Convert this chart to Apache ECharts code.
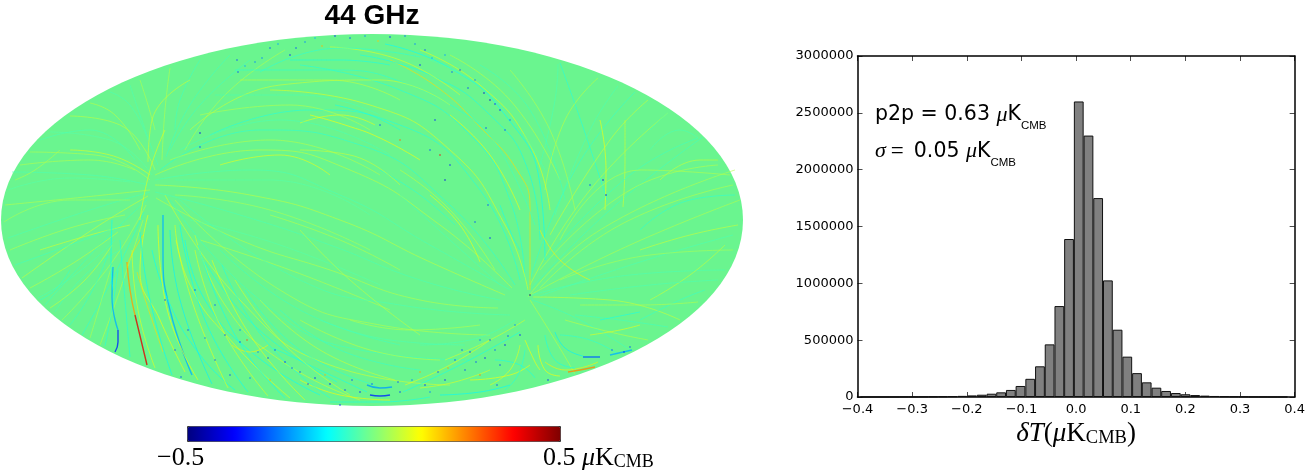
<!DOCTYPE html>
<html>
<head>
<meta charset="utf-8">
<title>44 GHz</title>
<script src="https://cdn.jsdelivr.net/npm/echarts@6/dist/echarts.min.js"></script>
<style>
html, body { margin: 0; padding: 0; background: #fff; }
#main { width: 1308px; height: 471px; }
</style>
</head>
<body>
<div id="main"></div>
<script>
// histogram
var binCenters = [-0.3858, -0.3681, -0.3503, -0.3325, -0.3148, -0.2970, -0.2793, -0.2615, -0.2437, -0.2260, -0.2082,
    -0.1905, -0.1727, -0.1549, -0.1372, -0.1194, -0.1017, -0.0839, -0.0661, -0.0484, -0.0306, -0.0129,
    0.0049, 0.0227, 0.0404, 0.0582, 0.0759, 0.0937, 0.1115, 0.1292, 0.1470, 0.1647, 0.1825, 0.2003,
    0.2180, 0.2358, 0.2535, 0.2713, 0.2891, 0.3068, 0.3246, 0.3423, 0.3601, 0.3779];
var binCounts = [200, 300, 500, 800, 1200, 1800, 2500, 3500, 5000, 7000, 10000,
    14000, 20000, 29000, 41000, 62000, 97000, 160000, 270000, 463000, 800000, 1390000,
    2600000, 2300000, 1750000, 1026000, 592000, 355000, 210000, 129000, 82000, 53000, 35000, 24000,
    17000, 12000, 9000, 6000, 4000, 2800, 1900, 1200, 700, 400];
var histXTicks = [-0.4, -0.3, -0.2, -0.1, 0, 0.1, 0.2, 0.3, 0.4];

// map streaks as [value, points]
var streaksLeftFan = [
    [0.05, [[150,190],[85,197],[5,205]]],
    [-0.05, [[150,192],[90,210],[8,238]]],
    [0.07, [[148,196],[95,228],[22,278]]],
    [-0.06, [[147,200],[100,245],[45,305]]],
    [0.05, [[146,205],[110,265],[62,320]]],
    [-0.08, [[144,212],[112,280],[82,335]]],
    [0.06, [[143,220],[120,290],[100,345]]],
    [-0.05, [[148,185],[90,175],[12,172]]],
    [0.05, [[150,180],[95,155],[30,152]]],
    [-0.04, [[152,175],[110,140],[50,132]]],
    [0.06, [[155,170],[120,125],[70,116]]],
    [-0.05, [[158,165],[140,115],[130,85]]],
    [0.05, [[162,160],[165,110],[170,68]]],
    [-0.06, [[166,157],[190,105],[230,55]]],
    [0.08, [[130,225],[90,235],[40,250]]],
    [-0.05, [[120,250],[85,275],[55,312]]],
    [-0.07, [[70,270],[55,290],[40,300]]],
    [0.05, [[60,150],[35,170],[15,180]]],
    [0.05, [[125,215],[70,228],[10,250]]],
    [-0.06, [[122,225],[70,245],[15,265]]],
    [0.06, [[118,232],[75,262],[30,288]]],
    [-0.05, [[115,240],[75,275],[38,298]]],
    [0.07, [[112,245],[85,280],[50,308]]],
    [-0.07, [[108,255],[90,295],[70,325]]],
    [0.05, [[112,265],[100,305],[90,338]]],
    [-0.09, [[118,270],[112,310],[105,346]]],
    [0.04, [[130,200],[70,200],[4,222]]],
    [-0.04, [[130,182],[70,178],[8,190]]],
    [0.05, [[135,170],[90,160],[20,165]]],
    [-0.05, [[135,160],[90,130],[40,140]]],
    [0.06, [[140,150],[115,115],[90,103]]],
    [-0.05, [[148,140],[130,105],[110,92]]],
    [0.05, [[155,130],[148,105],[140,80]]],
    [-0.06, [[175,130],[180,100],[200,60]]],
    [0.08, [[148,162],[152,120],[190,80]]],
    [0.1, [[140,220],[150,170],[165,130]]],
    [-0.06, [[170,150],[200,105],[250,60]]],
    [0.05, [[185,150],[225,95],[285,50]]]
];
var streaksRightFan = [
    [0.05, [[530,295],[630,245],[740,200]]],
    [-0.05, [[532,295],[630,275],[725,270]]],
    [0.07, [[533,297],[610,300],[680,320]]],
    [-0.06, [[532,300],[580,320],[630,350]]],
    [0.06, [[530,300],[555,340],[575,374]]],
    [0.05, [[528,297],[600,230],[735,170]]],
    [-0.06, [[530,290],[610,210],[703,137]]],
    [0.06, [[530,285],[590,190],[668,113]]],
    [-0.07, [[530,280],[575,170],[635,92]]],
    [-0.09, [[607,200],[583,127],[560,63]]],
    [0.08, [[623,207],[625,160],[625,120]]],
    [0.12, [[605,210],[606,170],[600,120]]],
    [0.05, [[540,288],[620,225],[733,185]]],
    [-0.05, [[540,296],[640,262],[733,235]]],
    [0.07, [[650,300],[690,275],[725,245]]],
    [-0.07, [[640,320],[680,300],[705,290]]],
    [0.07, [[660,180],[700,160],[718,160]]],
    [-0.05, [[650,130],[660,120],[668,113]]],
    [0.04, [[560,280],[650,255],[733,250]]],
    [-0.05, [[570,295],[650,285],[718,280]]],
    [0.05, [[580,305],[640,305],[698,302]]],
    [-0.06, [[575,315],[620,320],[668,327]]],
    [0.06, [[565,320],[610,332],[648,340]]],
    [-0.08, [[560,335],[590,340],[618,354]]],
    [0.05, [[540,270],[630,190],[718,165]]],
    [-0.06, [[545,260],[630,175],[698,138]]],
    [0.07, [[550,235],[610,140],[648,100]]],
    [-0.05, [[555,215],[590,130],[618,86]]],
    [0.06, [[545,190],[565,120],[598,78]]],
    [-0.05, [[540,165],[555,100],[558,64]]],
    [0.05, [[560,240],[640,170],[730,175]]],
    [-0.08, [[640,230],[690,200],[735,195]]],
    [0.07, [[640,250],[690,235],[738,225]]],
    [-0.05, [[650,150],[680,130],[698,138]]]
];
var streaksUpperArcs = [
    [0.16, [[390,60],[437,87],[480,127],[517,170],[530,207],[530,290]]],
    [-0.1, [[360,55],[430,75],[490,115],[528,170],[540,240]]],
    [-0.12, [[385,44],[450,68],[505,115],[540,185],[545,260]]],
    [0.1, [[420,50],[480,85],[530,145],[550,210]]],
    [-0.09, [[300,65],[400,90],[470,135],[510,200],[525,280]]],
    [0.09, [[270,90],[370,105],[450,150],[505,225],[528,290]]],
    [-0.08, [[235,70],[330,70],[410,85],[480,125]]],
    [0.07, [[190,130],[280,85],[380,80],[450,105]]],
    [-0.09, [[210,135],[310,110],[400,125],[480,190],[520,280]]],
    [0.12, [[310,115],[345,125],[380,138],[420,160]]],
    [-0.1, [[290,60],[340,60],[390,65]]],
    [0.1, [[300,123],[340,115],[375,125]]],
    [-0.08, [[160,170],[260,130],[360,145],[450,205],[515,285]]],
    [0.06, [[155,175],[260,150],[350,170],[440,225],[512,288]]],
    [-0.05, [[155,180],[250,170],[340,195],[430,245],[510,290]]],
    [0.06, [[155,185],[250,195],[340,220],[430,262],[505,295]]],
    [-0.05, [[155,192],[240,215],[330,245],[420,280],[500,300]]],
    [0.05, [[156,198],[240,240],[330,270],[420,300],[498,308]]],
    [0.1, [[220,165],[280,155],[330,175]]],
    [-0.08, [[380,170],[420,195],[455,225]]],
    [0.11, [[430,195],[460,225],[480,262]]],
    [-0.1, [[500,205],[512,235],[520,250]]],
    [0.09, [[70,150],[110,155],[150,175]]],
    [-0.1, [[335,105],[370,115],[400,130]]],
    [0.14, [[540,230],[560,260],[590,280]]],
    [0.09, [[330,47],[400,60],[460,95]]],
    [-0.08, [[260,72],[340,48],[420,57]]],
    [0.06, [[240,80],[330,80],[400,100]]],
    [-0.05, [[215,95],[300,95],[380,115]]],
    [0.05, [[200,115],[290,105],[370,130]]],
    [-0.05, [[180,150],[280,120],[390,155]]],
    [0.05, [[170,160],[270,140],[380,175]]],
    [-0.04, [[175,180],[270,180],[370,215]]],
    [0.04, [[175,195],[270,210],[370,250]]],
    [-0.04, [[190,220],[280,245],[380,285]]],
    [0.05, [[200,240],[290,270],[390,310]]],
    [0.11, [[450,115],[490,155],[520,210]]],
    [-0.06, [[465,110],[500,150],[535,225]]],
    [0.06, [[400,170],[450,210],[495,270]]],
    [-0.05, [[400,195],[450,240],[500,285]]],
    [0.07, [[300,150],[350,155],[400,185]]],
    [0.05, [[270,215],[340,240],[400,270]]],
    [-0.05, [[430,60],[490,95],[545,170]]],
    [0.06, [[450,55],[510,100],[560,180]]],
    [-0.06, [[480,65],[530,110],[565,200]]],
    [0.05, [[510,70],[550,130],[575,210]]]
];
var streaksLowerArcs = [
    [-0.2, [[113,267],[112,297],[118,330]]],
    [-0.34, [[118,330],[118,342],[115,352]]],
    [-0.12, [[112,220],[111,262],[113,290]]],
    [0.22, [[127,262],[130,290],[135,315]]],
    [0.4, [[135,315],[141,340],[147,365]]],
    [0.16, [[143,235],[130,258],[127,268]]],
    [0.16, [[137,272],[147,305],[163,352]]],
    [0.12, [[148,215],[140,270],[160,320],[185,372]]],
    [-0.2, [[163,215],[163,255],[170,310],[192,375]]],
    [-0.12, [[152,250],[168,300],[200,355],[235,390]]],
    [0.1, [[175,225],[190,285],[235,345],[290,398]]],
    [-0.12, [[185,240],[205,300],[255,355],[320,395]]],
    [0.08, [[195,235],[225,305],[280,360],[360,400]]],
    [-0.1, [[205,262],[257,328],[337,382]]],
    [0.08, [[165,195],[240,300],[330,365],[450,385]]],
    [-0.06, [[170,200],[260,300],[360,350],[470,360]]],
    [0.05, [[175,200],[280,290],[380,325],[490,335]]],
    [-0.05, [[180,200],[300,280],[400,305],[510,315]]],
    [0.14, [[232,345],[250,352],[268,345]]],
    [-0.1, [[273,348],[320,370],[367,392]]],
    [0.13, [[300,380],[340,395],[390,400]]],
    [-0.34, [[370,395],[380,396],[390,395]]],
    [-0.22, [[367,385],[380,388],[392,387]]],
    [0.1, [[405,385],[450,365],[490,340]]],
    [-0.1, [[403,392],[460,365],[520,332]]],
    [0.08, [[445,360],[490,340],[525,320]]],
    [0.12, [[525,340],[535,362],[540,370]]],
    [-0.1, [[495,360],[520,365],[535,378]]],
    [-0.13, [[440,395],[480,392],[510,385]]],
    [0.12, [[470,380],[510,375],[530,365]]],
    [-0.14, [[555,332],[565,348],[583,356]]],
    [-0.28, [[583,357],[600,357]]],
    [-0.2, [[610,355],[632,350]]],
    [0.24, [[568,372],[580,370],[595,367]]],
    [0.14, [[545,362],[565,370],[598,362]]],
    [-0.1, [[600,320],[625,315],[640,312]]],
    [0.1, [[590,335],[620,330],[640,325]]],
    [-0.06, [[220,250],[300,310],[400,345]]],
    [0.06, [[300,230],[350,280],[420,335]]],
    [-0.1, [[120,240],[125,300],[130,357]]],
    [0.1, [[132,250],[138,310],[155,368]]],
    [-0.13, [[140,232],[150,300],[172,375]]],
    [0.12, [[158,225],[165,300],[198,380]]],
    [-0.14, [[170,230],[180,300],[212,384]]],
    [0.1, [[176,240],[195,310],[228,388]]],
    [-0.12, [[180,225],[205,320],[248,392]]],
    [0.09, [[195,250],[220,325],[268,396]]],
    [-0.11, [[198,245],[235,335],[285,398]]],
    [0.1, [[212,260],[250,335],[305,400]]],
    [-0.09, [[222,265],[265,340],[330,398]]],
    [0.08, [[235,280],[285,345],[350,395]]],
    [-0.08, [[245,290],[300,350],[375,385]]],
    [0.07, [[260,300],[320,350],[395,380]]],
    [-0.07, [[280,310],[340,350],[420,370]]],
    [0.06, [[300,320],[370,350],[440,360]]],
    [-0.05, [[320,320],[390,340],[465,345]]],
    [0.05, [[350,320],[410,330],[480,325]]],
    [-0.05, [[420,345],[470,340],[515,320]]],
    [0.1, [[520,345],[510,370],[490,385]]],
    [-0.09, [[525,350],[518,375],[505,390]]],
    [0.12, [[538,345],[545,370],[560,376]]],
    [-0.1, [[545,335],[555,360],[575,368]]],
    [0.09, [[420,388],[455,382],[490,370]]],
    [-0.1, [[330,402],[380,402],[430,397]]]
];
// small dark specks along the noisy scan edges, as [x, y, value]
var specks = [
    [270,48,-0.3],[290,55,-0.35],[255,62,-0.25],[238,72,-0.3],[245,66,-0.2],[305,42,-0.25],[335,36,-0.35],[350,38,-0.3],
    [390,37,-0.35],[405,36,-0.28],[425,50,-0.3],[445,55,-0.22],[460,70,-0.3],[475,80,-0.25],[500,110,-0.35],[505,130,-0.3],
    [420,65,-0.35],[435,120,-0.35],[440,155,0.38],[430,150,-0.3],[450,165,-0.35],[445,180,-0.4],[400,140,0.28],[380,125,-0.3],
    [200,133,-0.4],[200,147,-0.3],[237,60,-0.3],[530,295,-0.5],
    [603,180,-0.4],[606,195,-0.38],[590,185,-0.3],[488,205,-0.3],[490,238,-0.35],[475,222,-0.3],
    [275,350,-0.3],[285,362,-0.35],[300,372,-0.3],[315,378,-0.35],[330,384,-0.38],[345,390,-0.32],[360,392,-0.35],[340,405,-0.35],
    [247,340,0.3],[240,342,-0.3],[181,377,-0.3],[165,300,-0.3],[195,290,-0.3],[215,305,-0.28],[225,335,-0.3],[240,330,-0.25],
    [400,392,-0.32],[425,385,-0.35],[445,380,-0.35],[465,370,-0.3],[485,358,-0.35],[505,345,-0.38],[520,335,-0.35],[455,360,-0.3],
    [470,352,-0.33],[490,340,-0.3],[515,325,-0.25],[480,375,0.25],[500,365,-0.3],[430,392,-0.25],[548,380,-0.35],[612,350,-0.3],
    [624,352,-0.35],[630,347,-0.3],[497,385,-0.3],[420,372,0.22],
    [262,58,-0.25],[278,44,-0.22],[296,48,-0.3],[315,38,-0.2],[322,46,0.2],[365,36,-0.25],[378,41,0.18],[415,44,-0.25],
    [432,58,-0.2],[452,72,-0.28],[468,88,-0.3],[484,93,-0.42],[490,100,-0.42],[495,104,-0.35],[510,120,-0.25],[486,128,-0.3],
    [258,352,-0.25],[268,358,-0.3],[292,368,-0.28],[308,384,-0.3],[325,375,0.2],[352,380,-0.3],[372,384,-0.3],[398,382,-0.3],
    [412,380,-0.25],[438,372,-0.3],[448,368,0.22],[476,362,-0.3],[495,350,-0.28],[508,336,-0.3],[462,350,-0.28],[480,340,-0.25],
    [205,338,-0.25],[188,330,-0.3],[175,350,-0.3],[215,360,-0.28],[230,375,-0.3],[250,378,-0.25],[270,380,0.2]
];

var jetColors = ['#00007f', '#0000ff', '#007fff', '#00ffff', '#7fff7f', '#ffff00', '#ff7f00', '#ff0000', '#7f0000'];
var allStreaks = streaksLeftFan.concat(streaksRightFan, streaksUpperArcs, streaksLowerArcs);

var myChart = echarts.init(document.getElementById('main'));

var streakSeries = allStreaks.map(function (s) {
    var strong = Math.abs(s[0]) >= 0.2;
    return {
        type: 'line',
        xAxisIndex: 0,
        yAxisIndex: 0,
        data: s[1],
        smooth: true,
        showSymbol: false,
        silent: true,
        z: 3,
        lineStyle: {
            color: echarts.color.lerp(s[0] + 0.5, jetColors),
            width: strong ? 1.4 : 1,
            opacity: strong ? 0.8 : 0.62
        }
    };
});

var serif = 'Liberation Serif';
var noteRich = {
    a: { fontFamily: 'DejaVu Sans', fontSize: 20.5, color: '#000', lineHeight: 34, verticalAlign: 'middle' },
    m: { fontFamily: serif, fontStyle: 'italic', fontSize: 22, color: '#000', lineHeight: 34, verticalAlign: 'middle' },
    e: { fontFamily: serif, fontSize: 23, color: '#000', lineHeight: 34, verticalAlign: 'middle', padding: [0, 10, 0, 5] },
    s: { fontFamily: 'Liberation Sans', fontSize: 11.5, color: '#000', lineHeight: 12, verticalAlign: 'bottom' }
};
var tickLine = { color: '#000', width: 0.7 };
var frameLine = { color: '#000', width: 1.5 };

var option = {
    animation: false,
    backgroundColor: '#fff',
    title: {
        text: '44 GHz',
        left: 367,
        top: -3,
        textAlign: 'center',
        textStyle: { fontFamily: 'Liberation Sans', fontWeight: 'bold', fontSize: 28, color: '#000' }
    },
    grid: [
        { left: 1, top: 34, width: 742, height: 372, show: false },
        { left: 857.5, top: 56, width: 440, height: 341, show: false }
    ],
    xAxis: [
        { gridIndex: 0, type: 'value', min: 1, max: 743, show: false },
        {
            gridIndex: 1, type: 'value', min: -0.4, max: 0.4, interval: 0.1, position: 'bottom',
            axisLine: { onZero: false, lineStyle: frameLine },
            axisTick: { inside: true, length: 5, lineStyle: tickLine },
            axisLabel: {
                margin: 6, fontSize: 13, fontFamily: 'DejaVu Sans', color: '#000',
                customValues: histXTicks,
                formatter: function (v) { return v.toFixed(1).replace('-', '\u2212'); }
            },
            splitLine: { show: false },
            name: '{i|\u03b4T}{r|(}{i|\u03bc}{r|K}{s|CMB}{r|)}',
            nameLocation: 'middle',
            nameGap: 21,
            nameTextStyle: {
                rich: {
                    i: { fontFamily: serif, fontStyle: 'italic', fontSize: 27, color: '#000' },
                    r: { fontFamily: serif, fontSize: 27, color: '#000' },
                    s: { fontFamily: serif, fontSize: 18.5, color: '#000', verticalAlign: 'bottom' }
                }
            }
        },
        {
            gridIndex: 1, type: 'value', min: -0.4, max: 0.4, interval: 0.1, position: 'top',
            axisLine: { onZero: false, lineStyle: frameLine },
            axisTick: { inside: true, length: 5, lineStyle: tickLine },
            axisLabel: { show: false }, splitLine: { show: false }
        }
    ],
    yAxis: [
        { gridIndex: 0, type: 'value', min: 34, max: 406, inverse: true, show: false },
        {
            gridIndex: 1, type: 'value', min: 0, max: 3000000, interval: 500000, position: 'left',
            axisLine: { show: true, onZero: false, lineStyle: frameLine },
            axisTick: { show: true, inside: true, length: 5, lineStyle: tickLine },
            axisLabel: {
                margin: 4, fontSize: 13, fontFamily: 'DejaVu Sans', color: '#000',
                formatter: function (v) { return String(v); }
            },
            splitLine: { show: false }
        },
        {
            gridIndex: 1, type: 'value', min: 0, max: 3000000, interval: 500000, position: 'right',
            axisLine: { show: true, onZero: false, lineStyle: frameLine },
            axisTick: { show: true, inside: true, length: 5, lineStyle: tickLine },
            axisLabel: { show: false }, splitLine: { show: false }
        }
    ],
    visualMap: {
        type: 'continuous',
        seriesIndex: 1,
        dimension: 2,
        min: -0.5,
        max: 0.5,
        orient: 'horizontal',
        left: 187,
        top: 426,
        padding: 0,
        itemWidth: 15,
        itemHeight: 373,
        text: ['', ''],
        showLabel: false,
        calculable: false,
        realtime: false,
        hoverLink: false,
        borderColor: '#333',
        borderWidth: 1,
        inRange: { color: jetColors }
    },
    graphic: [
        {
            type: 'text', left: 875, top: 104, silent: true,
            style: { rich: noteRich, text: '{a|p2p = 0.63 }{m|\u03bc}{a|K}{s|CMB}' }
        },
        {
            type: 'text', left: 875, top: 140, silent: true,
            style: { rich: noteRich, text: '{m|\u03c3}{e|=}{a|0.05 }{m|\u03bc}{a|K}{s|CMB}' }
        },
        {
            type: 'text', left: 157, top: 445, silent: true,
            style: { text: '\u22120.5', fontFamily: serif, fontSize: 26, fill: '#000' }
        },
        {
            type: 'text', left: 543, top: 445, silent: true,
            style: {
                rich: {
                    r: { fontFamily: serif, fontSize: 26, color: '#000' },
                    m: { fontFamily: serif, fontStyle: 'italic', fontSize: 26, color: '#000' },
                    s: { fontFamily: serif, fontSize: 18, color: '#000', verticalAlign: 'bottom' }
                },
                text: '{r|0.5 }{m|\u03bc}{r|K}{s|CMB}'
            }
        }
    ],
    series: [
        {
            // sky map disc
            type: 'custom',
            xAxisIndex: 0,
            yAxisIndex: 0,
            silent: true,
            z: 1,
            data: [[372, 220]],
            renderItem: function (params, api) {
                var c = api.coord([api.value(0), api.value(1)]);
                var left = api.coord([1, 220]);
                var top = api.coord([372, 34]);
                return {
                    type: 'ellipse',
                    shape: { cx: c[0], cy: c[1], rx: c[0] - left[0], ry: c[1] - top[1] },
                    style: { fill: '#6af58f' }
                };
            }
        },
        {
            type: 'scatter',
            xAxisIndex: 0,
            yAxisIndex: 0,
            silent: true,
            symbolSize: 2,
            itemStyle: { opacity: 0.5 },
            z: 4,
            data: specks
        },
        {
            type: 'bar',
            xAxisIndex: 1,
            yAxisIndex: 1,
            barWidth: 9.77,
            silent: true,
            z: 2,
            itemStyle: { color: '#808080', borderColor: '#111', borderWidth: 1 },
            data: binCenters.map(function (c, i) { return [c, binCounts[i]]; })
        }
    ].concat(streakSeries)
};

option && myChart.setOption(option);
</script>
</body>
</html>
